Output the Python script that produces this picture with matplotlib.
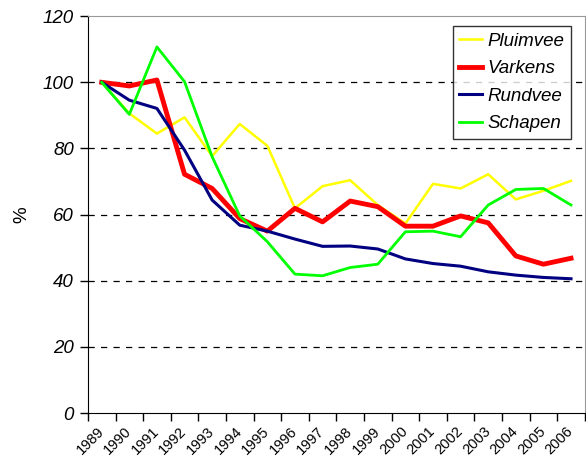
import matplotlib.pyplot as plt
import matplotlib.transforms as mtransforms
import numpy as np

years = [str(y) for y in range(1989, 2007)]
pluimvee = [100, 90.6, 84.5, 89.4, 77.7, 87.4, 80.8, 61.9, 68.6, 70.4, 62.9, 57.3, 69.3, 67.9, 72.2, 64.6, 67.2, 70.2]
varkens = [100, 98.9, 100.7, 72.2, 67.9, 58.8, 55.0, 61.9, 57.8, 64.1, 62.4, 56.5, 56.5, 59.6, 57.5, 47.5, 45.0, 46.8]
rundvee = [100, 94.6, 92.1, 79.5, 64.4, 56.8, 55.0, 52.6, 50.4, 50.5, 49.6, 46.6, 45.2, 44.4, 42.7, 41.7, 41.0, 40.6]
schapen = [100, 90.3, 110.7, 100.2, 77.5, 59.6, 51.8, 42.0, 41.5, 44.0, 45.0, 54.8, 55.0, 53.3, 62.9, 67.6, 67.9, 62.9]

plt.rcParams['font.family'] = ['Liberation Sans', 'DejaVu Sans']

fig = plt.figure(figsize=(5.86, 4.62), dpi=100)
ax = fig.add_axes([0.150, 0.106, 0.848, 0.859])

x = np.arange(len(years))
ax.plot(x, pluimvee, color='#FFFF00', lw=1.8, label='Pluimvee')
ax.plot(x, varkens, color='#FF0000', lw=3.5, label='Varkens')
ax.plot(x, rundvee, color='#000080', lw=2.2, label='Rundvee')
ax.plot(x, schapen, color='#00FF00', lw=2.0, label='Schapen')

ax.set_xlim(-0.5, len(years) - 0.5)
ax.set_ylim(0, 120)
ax.set_yticks(range(0, 121, 20))
ax.set_yticklabels([str(v) for v in range(0, 121, 20)], fontstyle='italic', fontsize=13.5)
ax.tick_params(axis='y', length=6, width=1, direction='out', pad=4)

ax.set_xticks(x)
ax.set_xticklabels(years, rotation=45, ha='right', va='top', rotation_mode='anchor', fontsize=10.5)
ax.tick_params(axis='x', which='major', length=0, pad=8)
ax.set_xticks(np.arange(-0.5, len(years), 1), minor=True)
ax.tick_params(axis='x', which='minor', length=6, width=1, direction='out')
shift = mtransforms.ScaledTranslation(-5 / 100, 0, fig.dpi_scale_trans)
for lab in ax.get_xticklabels():
    lab.set_transform(lab.get_transform() + shift)

for v in range(20, 101, 20):
    ax.axhline(v, color='black', lw=0.9, ls=(0, (5, 5)), zorder=0)

ax.spines['left'].set_color('black')
ax.spines['bottom'].set_color('black')
ax.spines['top'].set_color('#999999')
ax.spines['right'].set_color('#999999')

ax.set_ylabel('%', fontsize=13.5, labelpad=9)

leg = ax.legend(loc='upper right', bbox_to_anchor=(0.972, 0.975), frameon=True, fancybox=False,
                edgecolor='black', prop={'style': 'italic', 'size': 13.5}, handlelength=1.2,
                handletextpad=0.3, borderpad=0.35, labelspacing=0.55, borderaxespad=0)
leg.get_frame().set_linewidth(1.0)

fig.savefig('out.png', dpi=100)
